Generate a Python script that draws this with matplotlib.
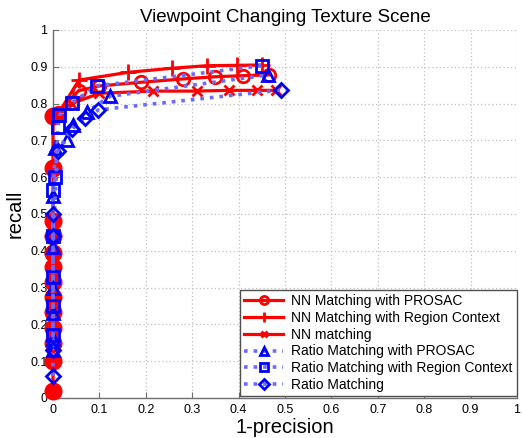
import matplotlib
matplotlib.use("Agg")
import matplotlib.pyplot as plt
import numpy as np

plt.rcParams['font.family'] = ['Liberation Sans', 'DejaVu Sans']

# ---- data ----
nn_prosac_x = [0, 0, 0, 0, 0, 0, 0, 0, 0, 0, 0, 0, 0, 0.01, 0.055, 0.10, 0.19, 0.28, 0.35, 0.41, 0.465]
nn_prosac_y = [0.02, 0.10, 0.15, 0.19, 0.235, 0.275, 0.315, 0.355, 0.395, 0.44, 0.48, 0.625, 0.765,
               0.775, 0.835, 0.848, 0.858, 0.867, 0.873, 0.876, 0.878]

nn_rc_x = [0, 0.01, 0.056, 0.162, 0.256, 0.331, 0.396, 0.45]
nn_rc_y = [0.765, 0.77, 0.864, 0.885, 0.896, 0.903, 0.904, 0.905]

nn_x = [0, 0.01, 0.04, 0.10, 0.215, 0.31, 0.379, 0.44, 0.48]
nn_y = [0.765, 0.77, 0.80, 0.828, 0.834, 0.834, 0.836, 0.836, 0.836]

ratio_prosac_x = [0, 0, 0, 0, 0, 0, 0.005, 0.03, 0.044, 0.073, 0.123, 0.464]
ratio_prosac_y = [0.13, 0.16, 0.23, 0.30, 0.41, 0.55, 0.68, 0.70, 0.742, 0.778, 0.82, 0.878]

ratio_rc_x = [0, 0, 0, 0, 0, 0.005, 0.011, 0.014, 0.04, 0.094, 0.45]
ratio_rc_y = [0.17, 0.25, 0.33, 0.44, 0.565, 0.60, 0.737, 0.769, 0.802, 0.848, 0.903]

ratio_x = [0, 0, 0, 0, 0.01, 0.04, 0.069, 0.098, 0.491]
ratio_y = [0.06, 0.13, 0.50, 0.44, 0.67, 0.73, 0.76, 0.783, 0.837]

labels = ["NN Matching with PROSAC", "NN Matching with Region Context", "NN matching",
          "Ratio Matching with PROSAC", "Ratio Matching with Region Context", "Ratio Matching"]

title = "Viewpoint Changing Texture Scene"
xticks = [0, 0.1, 0.2, 0.3, 0.4, 0.5, 0.6, 0.7, 0.8, 0.9, 1]
xtick_labels = ["0", "0.1", "0.2", "0.3", "0.4", "0.5", "0.6", "0.7", "0.8", "0.9", "1"]

# ---- plot ----
fig = plt.figure(figsize=(5.22, 4.38), dpi=100)
ax = fig.add_axes([53/522, 40/438, 464/522, 368/438])
ax.set_xlim(0, 1)
ax.set_ylim(0, 1)
ax.grid(True, linestyle=(0, (1, 2)), color='#c0c0c0', linewidth=0.9)
ax.set_axisbelow(True)

red = '#ff0000'
blue = '#0000ff'
lblue = '#6a6aff'
lw_r = 2.3
ms = 9
mew = 2.0

# filled red dots along the axis (overlapping markers in the original)
x0 = [x for x in nn_prosac_x if x == 0]
y0 = [y for x, y in zip(nn_prosac_x, nn_prosac_y) if x == 0]
ax.plot(x0, y0, 'o', color=red, markersize=12, clip_on=False, zorder=3)

ax.plot(nn_prosac_x, nn_prosac_y, '-o', color=red, lw=lw_r, markersize=ms, mew=mew,
        markerfacecolor='none', clip_on=False, zorder=4, label=labels[0])
ax.plot(nn_rc_x, nn_rc_y, '-+', color=red, lw=lw_r, markersize=12, mew=mew,
        clip_on=False, zorder=4, label=labels[1])
ax.plot(nn_x, nn_y, '-x', color=red, lw=lw_r, markersize=7, mew=mew,
        clip_on=False, zorder=4, label=labels[2])

ax.plot(ratio_prosac_x, ratio_prosac_y, ':^', color=lblue, lw=2.6, markersize=ms, mew=mew,
        markeredgecolor=blue, markerfacecolor='none', clip_on=False, zorder=5, label=labels[3])
ax.plot(ratio_rc_x, ratio_rc_y, ':s', color=lblue, lw=2.6, markersize=ms, mew=mew,
        markeredgecolor=blue, markerfacecolor='none', clip_on=False, zorder=5, label=labels[4])
ax.plot(ratio_x, ratio_y, ':D', color=lblue, lw=2.6, markersize=7.5, mew=mew,
        markeredgecolor=blue, markerfacecolor='none', clip_on=False, zorder=5, label=labels[5])

ax.set_xticks(xticks)
ax.set_xticklabels(xtick_labels)
ax.set_yticks(xticks)
ax.set_yticklabels(xtick_labels)
ax.tick_params(direction='in', labelsize=9, length=4, color='#707070', pad=4)

for s in ['top', 'right']:
    ax.spines[s].set_visible(False)
for s in ['left', 'bottom']:
    ax.spines[s].set_color('#707070')
    ax.spines[s].set_linewidth(1.0)

ax.set_title(title, fontsize=13.5, pad=6)
ax.set_xlabel("1-precision", fontsize=14.5, labelpad=2)
ax.set_ylabel("recall", fontsize=14.5, labelpad=4)

leg = ax.legend(loc='lower right', bbox_to_anchor=(1.0, 0.005), fontsize=10, frameon=True,
                fancybox=False, borderpad=0.3, labelspacing=0.2, handlelength=2.8,
                handletextpad=0.6, borderaxespad=0.0, framealpha=1, markerscale=0.65)
leg.get_frame().set_edgecolor('#505050')
leg.get_frame().set_linewidth(1.0)
leg.set_zorder(10)

fig.savefig("out.png", dpi=100)
